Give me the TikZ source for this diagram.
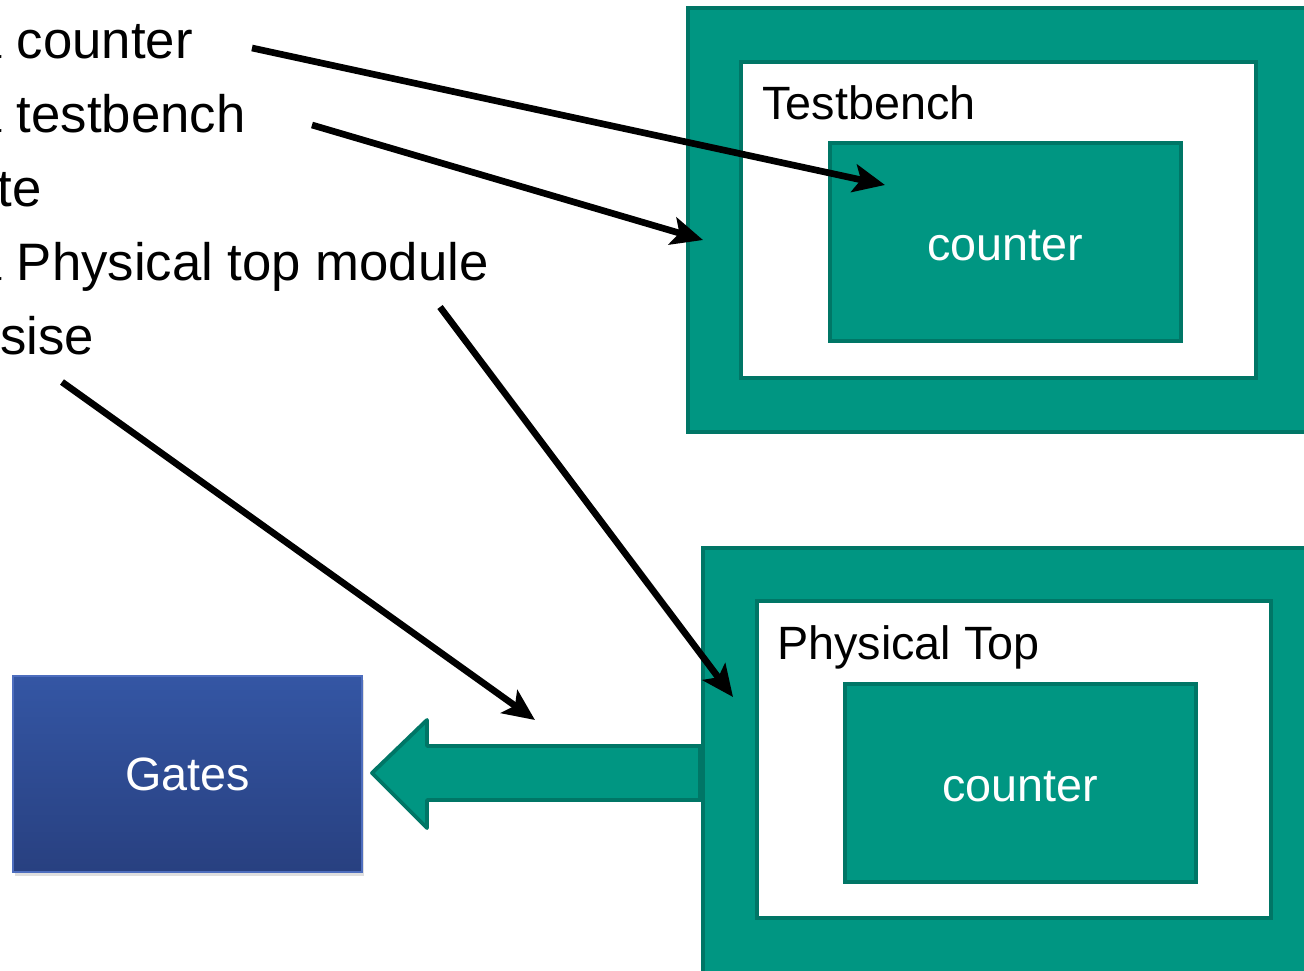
\documentclass[tikz,border=0pt]{standalone}
\usepackage{fontspec}
\setmainfont{Liberation Sans}
\usetikzlibrary{arrows.meta,fit,shadows}
\definecolor{teal1}{RGB}{0,150,130}
\definecolor{teal2}{RGB}{0,118,102}
\definecolor{gatetop}{RGB}{52,86,164}
\definecolor{gatebot}{RGB}{40,64,128}
\definecolor{gateline}{RGB}{78,110,190}
\tikzset{
  outerbox/.style={draw=teal2, fill=teal1, line width=2.2pt, inner sep=0pt},
  whitebox/.style={draw=teal2, fill=white, line width=2.2pt, inner sep=0pt},
  counterbox/.style={draw=teal2, fill=teal1, line width=2.2pt, inner sep=0pt},
  boxtext/.style={text=white, inner sep=0pt, font=\fontsize{26.6}{32}\selectfont},
  boxlabel/.style={anchor=base west, inner sep=0pt, font=\fontsize{26.6}{32}\selectfont},
  listtext/.style={anchor=base west, inner sep=0pt, font=\fontsize{30}{36}\selectfont},
  ptr/.style={line width=3.8pt, -{Stealth[length=18pt,width=16pt,inset=4pt]}}
}
\begin{document}
\begin{tikzpicture}[x=0.02cm,y=-0.02cm]
  \useasboundingbox (0,0) rectangle (1304,970);
  \clip (0,0) rectangle (1304,970);
  % list on the left
  \foreach \t [count=\i] in {Write a counter,Write a testbench,Simulate,Write a Physical top module,Synthesise}
    \node[listtext] (l\i) at (-164,{58+74*(\i-1)}) {\t};
  % testbench
  \node[outerbox, fit={(688,8) (1330,432)}] (tbOuter) {};
  \node[whitebox, fit={(741,62) (1256,378)}] (tbInner) {};
  \node[counterbox, fit={(830,143) (1181,341)}] (tbCounter) {};
  \node[boxtext, yshift=-0.08cm] (tbText) at (tbCounter.center) {counter};
  \node[boxlabel] (tbLabel) at (762,119) {Testbench};
  % physical top
  \node[outerbox, fit={(703,548) (1330,1000)}] (ptOuter) {};
  \node[whitebox, fit={(757,601) (1271,918)}] (ptInner) {};
  \node[counterbox, fit={(845,684) (1196,882)}] (ptCounter) {};
  \node[boxtext, yshift=-0.08cm] (ptText) at (ptCounter.center) {counter};
  \node[boxlabel] (ptLabel) at (777,659) {Physical Top};
  % gates
  \node[draw=gateline, line width=0.8pt, top color=gatetop, bottom color=gatebot,
    drop shadow={opacity=0.25,shadow xshift=1pt,shadow yshift=-2pt},
    inner sep=0pt, fit={(13,676) (362,872)}] (gates) {};
  \node[boxtext] (gatesText) at (gates.center) {Gates};
  % big arrow
  \draw[fill=teal1, draw=teal2, line width=2.2pt, line join=round]
    (701,746) -- (427,746) -- (427,720) -- (372,773) -- (427,828) -- (427,800) -- (701,800);
  \fill[teal2] (698,746) rectangle (704,800);
  % pointers
  \coordinate (a1s) at (252,48);  \coordinate (a1e) at (885,185);
  \coordinate (a2s) at (312,125); \coordinate (a2e) at (703,240);
  \coordinate (a3s) at (440,307); \coordinate (a3e) at (733,697);
  \coordinate (a4s) at (62,382);  \coordinate (a4e) at (535,720);
  \draw[ptr] (a1s) -- (a1e);
  \draw[ptr] (a2s) -- (a2e);
  \draw[ptr] (a3s) -- (a3e);
  \draw[ptr] (a4s) -- (a4e);
\end{tikzpicture}
\end{document}
